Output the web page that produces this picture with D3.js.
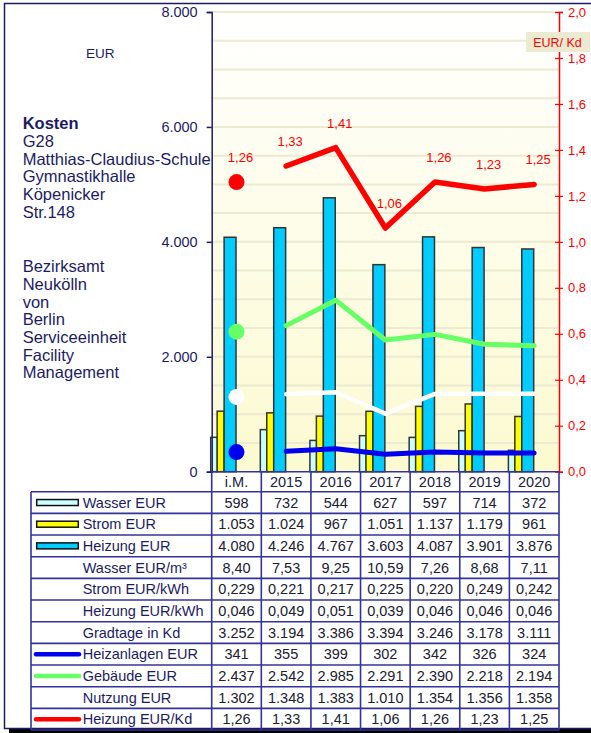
<!DOCTYPE html>
<html>
<head>
<meta charset="utf-8">
<script src="https://cdn.jsdelivr.net/npm/d3@7"></script>
<style>
body{margin:0;background:#fff;}
svg{display:block;font-family:"Liberation Sans", Arial, sans-serif;}
</style>
</head>
<body>
<script>
(function(){

//chart data
var categories = ["i.M.", "2015", "2016", "2017", "2018", "2019", "2020"];
var wasserEUR = [598, 732, 544, 627, 597, 714, 372];
var stromEUR = [1053, 1024, 967, 1051, 1137, 1179, 961];
var heizungEUR = [4080, 4246, 4767, 3603, 4087, 3901, 3876];
var wasserEURm3 = [8.40, 7.53, 9.25, 10.59, 7.26, 8.68, 7.11];
var stromEURkWh = [0.229, 0.221, 0.217, 0.225, 0.220, 0.249, 0.242];
var heizungEURkWh = [0.046, 0.049, 0.051, 0.039, 0.046, 0.046, 0.046];
var gradtage = [3252, 3194, 3386, 3394, 3246, 3178, 3111];
var heizanlagenEUR = [341, 355, 399, 302, 342, 326, 324];
var gebaeudeEUR = [2437, 2542, 2985, 2291, 2390, 2218, 2194];
var nutzungEUR = [1302, 1348, 1383, 1010, 1354, 1356, 1358];
var heizungEURKd = [1.26, 1.33, 1.41, 1.06, 1.26, 1.23, 1.25];

//axis ticks
var leftTicks = [0, 2000, 4000, 6000, 8000];
var rightTicks = [0, 0.2, 0.4, 0.6, 0.8, 1.0, 1.2, 1.4, 1.6, 1.8, 2.0];
var gridTicks = d3.range(500, 8001, 500);

//text blocks on the left
var titleLines = ["Kosten", "G28", "Matthias-Claudius-Schule", "Gymnastikhalle", "Köpenicker", "Str.148"];
var ownerLines = ["Bezirksamt", "Neukölln", "von", "Berlin", "Serviceeinheit", "Facility", "Management"];

//german number format
var de = d3.formatLocale({decimal: ",", thousands: ".", grouping: [3], currency: ["", " €"]});

var navy = "#1c1c62",
    gridBlue = "#33339a";

var width = 591, height = 733;
var plotLeft = 211.7, plotRight = 559, plotTop = 12, plotBottom = 471.7;
var tableLeft = 31, tableTop = 491.7, rowH = 21.67;

var svg = d3.select("body").append("svg")
    .attr("width", width)
    .attr("height", height);

//frame with shadow
svg.append("rect")
    .attr("x", 9).attr("y", 728.5)
    .attr("width", 590).attr("height", 5)
    .attr("fill", "#000");
svg.append("rect")
    .attr("x", 4.5).attr("y", 3.5)
    .attr("width", 590).attr("height", 725)
    .attr("fill", "#fff")
    .attr("stroke", navy)
    .attr("stroke-width", 1.5);

//scales
var x = d3.scaleBand().domain(categories).range([plotLeft, plotRight]);
var bw = x.bandwidth();
var yLeft = d3.scaleLinear().domain([0, 8000]).range([plotBottom, plotTop]);
var yRight = d3.scaleLinear().domain([0, 2]).range([plotBottom, plotTop]);

//plot background gradient
var grad = svg.append("defs").append("linearGradient")
    .attr("id", "bg")
    .attr("x1", 0).attr("y1", 0).attr("x2", 0).attr("y2", 1);
grad.append("stop").attr("offset", 0).attr("stop-color", "#ffffff");
grad.append("stop").attr("offset", 1).attr("stop-color", "#fcfad0");

svg.append("rect")
    .attr("x", plotLeft).attr("y", plotTop)
    .attr("width", plotRight - plotLeft).attr("height", plotBottom - plotTop)
    .attr("fill", "url(#bg)");

//gridlines every 500
svg.selectAll(".grid")
    .data(gridTicks)
    .enter()
    .append("line")
    .attr("class", "grid")
    .attr("x1", plotLeft).attr("x2", plotRight)
    .attr("y1", function(d){ return yLeft(d); })
    .attr("y2", function(d){ return yLeft(d); })
    .attr("stroke", "#ecead0")
    .attr("stroke-width", 2);

//bars
var barSeries = [
    {values: wasserEUR, fill: "#ccffff", off: -0.02, w: 0.135},
    {values: stromEUR, fill: "#ffff00", off: 0.11, w: 0.14},
    {values: heizungEUR, fill: "#00ccff", off: 0.25, w: 0.24}
];
barSeries.forEach(function(s){
    svg.append("g").selectAll("rect")
        .data(s.values)
        .enter()
        .append("rect")
        .attr("x", function(d, i){ return x(categories[i]) + s.off * bw; })
        .attr("y", function(d){ return yLeft(d); })
        .attr("width", s.w * bw)
        .attr("height", function(d){ return plotBottom - yLeft(d); })
        .attr("fill", s.fill)
        .attr("stroke", "#333")
        .attr("stroke-width", 1.5);
});

//lines, i.M. only as a dot
var lineSeries = [
    {values: nutzungEUR, color: "#ffffff", scale: yLeft, w: 4.5},
    {values: heizanlagenEUR, color: "#0000ee", scale: yLeft, w: 5},
    {values: gebaeudeEUR, color: "#66ff66", scale: yLeft, w: 5},
    {values: heizungEURKd, color: "#ff0000", scale: yRight, w: 5.5}
];
lineSeries.forEach(function(s){
    var pts = s.values.map(function(v, i){ return [x(categories[i]) + bw / 2, s.scale(v)]; });
    svg.append("path")
        .datum(pts.slice(1))
        .attr("d", d3.line())
        .attr("fill", "none")
        .attr("stroke", s.color)
        .attr("stroke-width", s.w)
        .attr("stroke-linejoin", "round")
        .attr("stroke-linecap", "round");
    svg.append("circle")
        .attr("cx", pts[0][0]).attr("cy", pts[0][1])
        .attr("r", 8)
        .attr("fill", s.color);
});

//left axis
var leftAxis = svg.append("g")
    .attr("transform", "translate(" + plotLeft + ",0)")
    .call(d3.axisLeft(yLeft).tickValues(leftTicks).tickSize(5).tickPadding(9).tickFormat(de.format(",.0f")));
leftAxis.select(".domain").attr("stroke", navy).attr("stroke-width", 1.5);
leftAxis.selectAll(".tick line").attr("stroke", navy).attr("stroke-width", 1.5);
leftAxis.selectAll("text")
    .attr("fill", navy)
    .style("font-size", "14.5px")
    .style("font-family", "'Liberation Sans', Arial, sans-serif");

//right axis in red, ticks crossing the line
var rightAxis = svg.append("g")
    .attr("transform", "translate(" + plotRight + ",0)")
    .call(d3.axisRight(yRight).tickValues(rightTicks).tickSize(4).tickPadding(5).tickFormat(de.format(".1f")));
rightAxis.select(".domain").attr("stroke", "#ff0000").attr("stroke-width", 1.5);
rightAxis.selectAll(".tick line").attr("x1", -4).attr("stroke", "#ff0000").attr("stroke-width", 1.2);
rightAxis.selectAll("text")
    .attr("fill", "#ff0000")
    .style("font-size", "13px")
    .style("font-family", "'Liberation Sans', Arial, sans-serif");

//x axis line
svg.append("line")
    .attr("x1", plotLeft).attr("x2", plotRight)
    .attr("y1", plotBottom).attr("y2", plotBottom)
    .attr("stroke", gridBlue).attr("stroke-width", 1.6);

//red data labels
svg.append("g").selectAll("text")
    .data(heizungEURKd)
    .enter()
    .append("text")
    .attr("x", function(d, i){ return x(categories[i]) + bw / 2 + 4; })
    .attr("y", function(d){ return yRight(d) - 20; })
    .attr("text-anchor", "middle")
    .attr("fill", "#ff0000")
    .style("font-size", "13px")
    .text(function(d){ return de.format(".2f")(d); });

//unit labels
svg.append("text")
    .attr("x", 86).attr("y", 58.3)
    .attr("fill", navy)
    .style("font-size", "13.5px")
    .text("EUR");

svg.append("rect")
    .attr("x", 526).attr("y", 32)
    .attr("width", 64).attr("height", 20)
    .attr("fill", "#ecebd2");
svg.append("text")
    .attr("x", 557.5).attr("y", 46.7)
    .attr("text-anchor", "middle")
    .attr("fill", "#ff0000")
    .style("font-size", "12.5px")
    .text("EUR/ Kd");

//left text blocks
var lineGap = 17.65;
svg.append("g").selectAll("text")
    .data(titleLines)
    .enter()
    .append("text")
    .attr("x", 22.7)
    .attr("y", function(d, i){ return 129.3 + i * lineGap; })
    .attr("fill", navy)
    .style("font-size", "16.5px")
    .style("font-weight", function(d, i){ return i == 0 ? "bold" : "normal"; })
    .text(function(d){ return d; });

svg.append("g").selectAll("text")
    .data(ownerLines)
    .enter()
    .append("text")
    .attr("x", 22.7)
    .attr("y", function(d, i){ return 272.3 + i * lineGap; })
    .attr("fill", navy)
    .style("font-size", "16.5px")
    .text(function(d){ return d; });

//data table
var tableRows = [
    {label: "Wasser EUR", values: wasserEUR, fmt: ",.0f", bar: "#ccffff"},
    {label: "Strom EUR", values: stromEUR, fmt: ",.0f", bar: "#ffff00"},
    {label: "Heizung EUR", values: heizungEUR, fmt: ",.0f", bar: "#00ccff"},
    {label: "Wasser EUR/m³", values: wasserEURm3, fmt: ".2f"},
    {label: "Strom EUR/kWh", values: stromEURkWh, fmt: ".3f"},
    {label: "Heizung EUR/kWh", values: heizungEURkWh, fmt: ".3f"},
    {label: "Gradtage in Kd", values: gradtage, fmt: ",.0f"},
    {label: "Heizanlagen EUR", values: heizanlagenEUR, fmt: ",.0f", line: "#0000ee"},
    {label: "Gebäude EUR", values: gebaeudeEUR, fmt: ",.0f", line: "#66ff66"},
    {label: "Nutzung EUR", values: nutzungEUR, fmt: ",.0f"},
    {label: "Heizung EUR/Kd", values: heizungEURKd, fmt: ".2f", line: "#ff0000"}
];
var tableBottom = tableTop + tableRows.length * rowH;

//category header
svg.append("g").selectAll("text")
    .data(categories)
    .enter()
    .append("text")
    .attr("x", function(d){ return x(d) + bw / 2; })
    .attr("y", plotBottom + 15)
    .attr("text-anchor", "middle")
    .attr("fill", "#202040")
    .style("font-size", "14.5px")
    .text(function(d){ return d; });

var rows = svg.append("g").selectAll("g")
    .data(tableRows)
    .enter()
    .append("g")
    .attr("transform", function(d, i){ return "translate(0," + (tableTop + i * rowH) + ")"; });

rows.append("text")
    .attr("x", 82.7)
    .attr("y", rowH / 2 + 5)
    .attr("fill", navy)
    .style("font-size", "14.5px")
    .text(function(d){ return d.label; });

rows.filter(function(d){ return d.bar; })
    .append("rect")
    .attr("x", 36.7).attr("y", rowH / 2 - 3)
    .attr("width", 41.6).attr("height", 6)
    .attr("fill", function(d){ return d.bar; })
    .attr("stroke", "#111")
    .attr("stroke-width", 1.5);

rows.filter(function(d){ return d.line; })
    .append("line")
    .attr("x1", 36).attr("x2", 79)
    .attr("y1", rowH / 2).attr("y2", rowH / 2)
    .attr("stroke", function(d){ return d.line; })
    .attr("stroke-width", 4.5)
    .attr("stroke-linecap", "round");

rows.each(function(r){
    d3.select(this).selectAll(".val")
        .data(r.values)
        .enter()
        .append("text")
        .attr("class", "val")
        .attr("x", function(d, i){ return x(categories[i]) + bw / 2; })
        .attr("y", rowH / 2 + 5)
        .attr("text-anchor", "middle")
        .attr("fill", "#202030")
        .style("font-size", "14.5px")
        .text(function(d){ return de.format(r.fmt)(d); });
});

//table grid
var hLines = d3.range(tableRows.length + 1);
svg.append("g").selectAll("line")
    .data(hLines)
    .enter()
    .append("line")
    .attr("x1", tableLeft).attr("x2", plotRight)
    .attr("y1", function(d){ return tableTop + d * rowH; })
    .attr("y2", function(d){ return tableTop + d * rowH; })
    .attr("stroke", gridBlue)
    .attr("stroke-width", 1.6);

var vLines = d3.range(categories.length + 1);
svg.append("g").selectAll("line")
    .data(vLines)
    .enter()
    .append("line")
    .attr("x1", function(d){ return plotLeft + d * bw; })
    .attr("x2", function(d){ return plotLeft + d * bw; })
    .attr("y1", plotBottom).attr("y2", tableBottom)
    .attr("stroke", gridBlue)
    .attr("stroke-width", 1.6);

svg.append("line")
    .attr("x1", tableLeft).attr("x2", tableLeft)
    .attr("y1", tableTop).attr("y2", tableBottom)
    .attr("stroke", gridBlue)
    .attr("stroke-width", 1.6);

})();
</script>
</body>
</html>
